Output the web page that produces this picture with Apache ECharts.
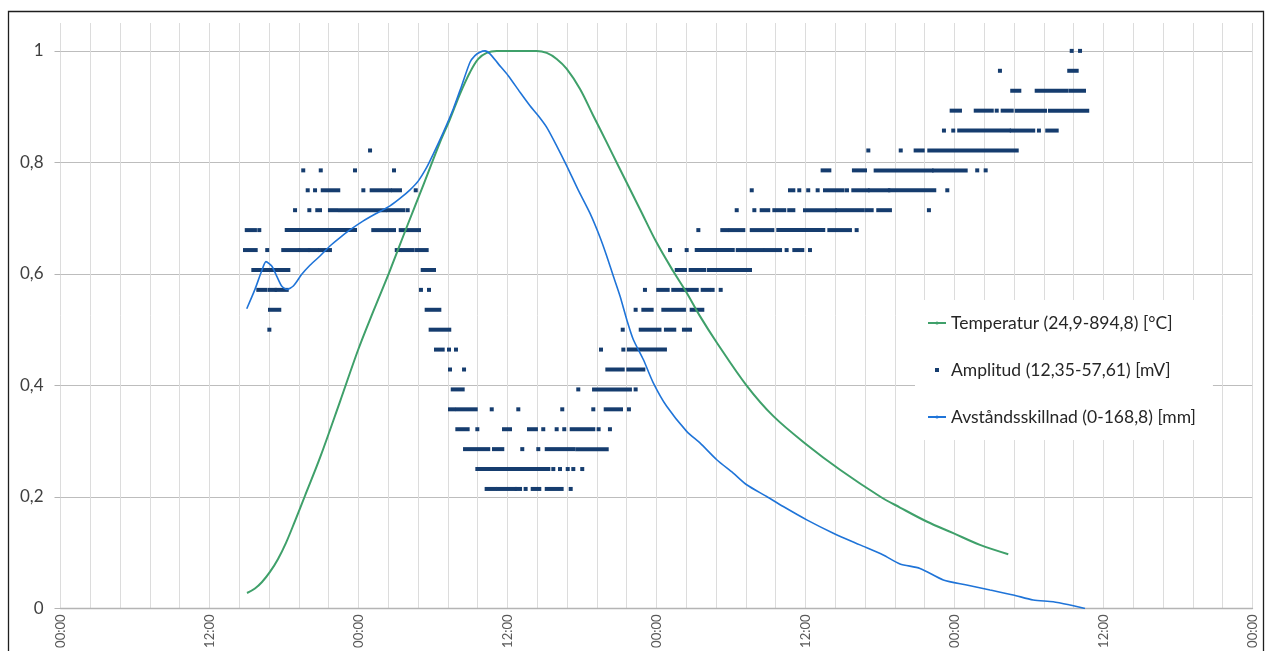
<!DOCTYPE html>
<html>
<head>
<meta charset="utf-8">
<script src="https://cdn.jsdelivr.net/npm/echarts@6/dist/echarts.min.js"></script>
<style>
html,body{margin:0;padding:0;background:#fff;}
#chart{width:1267px;height:651px;}
</style>
</head>
<body>
<div id="chart"></div>
<script>
// ---- Data (time in hours from first 00:00, values normalised to series max) ----
const timeLabels = ['00:00','12:00','00:00','12:00','00:00','12:00','00:00','12:00','00:00'];
const yTicks = [0, 0.2, 0.4, 0.6, 0.8, 1];

const seriesNames = [
  'Temperatur (24,9-894,8) [°C]',
  'Amplitud (12,35-57,61) [mV]',
  'Avståndsskillnad (0-168,8) [mm]'
];

const tempHours  = [15.02,15.66,16.23,16.87,17.52,18.16,18.89,19.69,20.90,22.51,23.98,25.19,26.54,27.88,29.22,30.56,31.37,32.17,32.98,33.65,34.32,35.13,38.35,39.16,39.96,40.77,41.84,42.91,43.99,44.92,46.67,48.01,49.35,50.43,51.50,52.85,55.26,57.41,60.10,62.78,66.00,67.61,69.76,71.90,74.05,76.33];
const tempValues = [0.0278,0.0359,0.0476,0.0656,0.0889,0.1177,0.1572,0.2022,0.2704,0.3711,0.4645,0.5328,0.6065,0.6837,0.7592,0.8359,0.8778,0.9227,0.9617,0.9856,0.9964,1.0,1.0,0.9964,0.9856,0.9677,0.9317,0.8837,0.8359,0.7939,0.7161,0.6562,0.6047,0.5664,0.5243,0.4771,0.3998,0.3450,0.2938,0.2489,0.2009,0.1811,0.1560,0.1351,0.1141,0.0974];

const distHours  = [15.00,15.66,16.20,16.55,17.01,17.41,17.81,18.22,18.75,19.43,20.09,20.90,21.70,22.51,23.31,24.39,25.47,26.54,27.34,28.15,28.82,29.49,30.02,30.83,31.63,32.31,32.98,33.38,33.78,34.19,34.59,35.26,36.06,37.01,37.81,38.48,39.16,39.96,40.77,41.68,42.64,43.45,43.99,44.52,45.06,45.60,46.13,46.94,47.74,48.82,50.43,51.50,52.85,54.18,55.26,56.87,58.21,60.10,62.24,64.39,66.26,67.61,69.22,71.10,72.98,74.86,76.73,78.34,79.95,81.30,82.51];
const distValues = [0.5376,0.5723,0.6052,0.6221,0.6142,0.5962,0.5783,0.5723,0.5783,0.5993,0.6155,0.6322,0.6501,0.6652,0.6789,0.6951,0.7089,0.7220,0.7353,0.7508,0.7669,0.7910,0.8149,0.8539,0.8958,0.9376,0.9797,0.9916,0.9977,1.0,0.9946,0.9767,0.9556,0.9258,0.9017,0.8837,0.8629,0.8298,0.7939,0.7511,0.7089,0.6658,0.6322,0.5962,0.5603,0.5184,0.4825,0.4465,0.4047,0.3626,0.3177,0.2969,0.2668,0.2429,0.2219,0.2009,0.1829,0.1590,0.1351,0.1141,0.0961,0.0800,0.0719,0.0512,0.0422,0.0332,0.0243,0.0153,0.0122,0.0063,0];

// amplitude: discrete levels and, per level, runs of consecutive samples [startHour, endHour]
const ampLevels = [0.2144,0.2501,0.2858,0.3215,0.3572,0.3929,0.4286,0.4643,0.5,0.5357,0.5714,0.6071,0.6428,0.6786,0.7143,0.75,0.7857,0.8214,0.8571,0.8928,0.9285,0.9643,1.0];
const ampRuns = [
  [[34.32,34.99],[35.26,36.60],[36.74,37.01],[37.46,37.46],[38.03,38.56],[39.16,40.36],[41.09,41.09]],
  [[33.57,39.29],[39.69,39.69],[40.23,40.23],[40.85,40.85],[41.30,41.30],[42.02,42.02]],
  [[32.58,34.45],[34.91,35.58],[37.19,37.19],[38.48,38.48],[39.16,41.30],[41.62,43.99]],
  [[31.96,32.79],[33.57,33.57],[35.72,36.20],[37.73,38.29],[38.88,38.88],[39.96,39.96],[40.57,40.57],[41.17,42.91],[43.34,43.34],[44.25,44.25]],
  [[31.37,31.69],[31.99,33.44],[34.73,34.73],[36.87,36.87],[40.41,40.41],[42.91,42.91],[43.91,45.14],[45.78,45.78]],
  [[31.59,32.39],[41.70,41.70],[42.97,45.86],[46.32,46.32]],
  [[31.37,31.37],[32.50,32.50],[44.04,45.28],[45.73,46.94]],
  [[30.24,30.78],[31.29,31.29],[31.85,31.85],[43.53,43.53],[45.33,45.33],[45.78,48.68]],
  [[16.82,16.82],[29.81,31.31],[45.28,45.28],[46.73,48.24],[48.76,49.43],[50.21,50.70]],
  [[16.87,17.62],[29.49,30.51],[46.32,46.32],[46.94,47.61],[48.55,50.21],[50.83,51.69]],
  [[15.93,16.47],[16.82,17.27],[17.41,18.22],[29.03,29.03],[29.68,29.68],[47.07,47.07],[48.14,48.90],[49.35,51.24],[51.72,52.23],[52.52,52.52],[53.17,53.17]],
  [[15.53,18.35],[29.17,30.08],[49.63,50.29],[50.75,51.85],[52.23,55.53]],
  [[14.86,15.72],[16.65,16.65],[17.94,19.15],[19.34,19.96],[20.09,20.68],[20.90,21.16],[21.44,21.70],[27.08,27.34],[27.61,28.36],[28.69,29.49],[49.09,49.09],[50.43,50.43],[51.24,54.14],[54.54,56.52],[56.79,57.95],[58.48,58.48],[59.10,59.74],[60.36,60.36]],
  [[15.00,15.66],[16.01,16.01],[18.22,23.72],[25.19,26.86],[27.40,28.87],[51.37,51.37],[53.30,53.70],[53.97,54.99],[55.67,57.33],[57.81,61.43],[61.92,62.78],[63.10,63.58],[64.12,64.12]],
  [[18.89,18.89],[20.04,20.04],[20.68,20.90],[21.70,22.19],[22.51,26.13],[26.40,27.61],[27.96,27.96],[54.46,54.46],[55.88,55.88],[56.47,57.00],[57.49,58.29],[58.69,59.02],[59.96,62.37],[62.56,64.61],[64.93,65.33],[65.86,66.80],[69.94,69.94]],
  [[19.91,19.91],[20.50,20.50],[21.12,22.37],[24.39,24.39],[25.06,26.54],[26.80,27.34],[28.61,28.61],[55.67,55.67],[58.75,59.02],[59.50,59.50],[60.22,60.22],[60.98,60.98],[61.57,62.99],[63.34,63.34],[63.85,65.01],[65.19,66.67],[66.80,70.37],[71.42,71.42]],
  [[19.55,19.55],[20.96,20.96],[23.72,23.72],[26.86,26.86],[61.38,61.92],[63.90,64.79],[65.65,70.16],[70.35,72.90],[73.83,73.83],[74.51,74.51]],
  [[24.93,24.93],[65.06,65.06],[67.67,67.67],[68.87,69.44],[69.97,77.01]],
  [[71.15,71.15],[71.90,71.90],[72.38,76.39],[76.61,78.34],[78.80,78.80],[79.47,80.23]],
  [[71.77,72.44],[73.71,75.00],[75.40,75.40],[75.88,76.61],[77.01,79.29],[79.69,82.69]],
  [[76.65,77.22],[78.62,81.03],[81.36,82.43]],
  [[75.66,75.66],[81.24,81.84]],
  [[81.44,81.44],[82.11,82.11]]
];

// ---- Build library data ----
const tempData = tempHours.map((h, i) => [h, tempValues[i]]);
const distData = distHours.map((h, i) => [h, distValues[i]]);
const ampData = [];
ampRuns.forEach((runs, k) => runs.forEach(r => ampData.push([ampLevels[k], r[0], r[1]])));

const COL_TEMP = '#3fa06a';
const COL_AMP = '#153c6e';
const COL_DIST = '#1f74d8';
const FONT = 'Lato, "Open Sans", sans-serif';

const chart = echarts.init(document.getElementById('chart'));
chart.setOption({
  animation: false,
  backgroundColor: '#fff',
  grid: { left: 60.5, right: 14.5, top: 23, bottom: 42.5, containLabel: false },
  xAxis: {
    type: 'value', min: 0, max: 96, interval: 2.4,
    axisLine: { show: true, lineStyle: { color: '#b4b4b4', width: 1.3 } },
    axisTick: { show: false },
    splitLine: { show: true, lineStyle: { color: '#dcdcdc', width: 1 } },
    axisLabel: {
      rotate: 90, margin: 6, fontSize: 13, color: '#595959', fontFamily: FONT,
      formatter: v => {
        const q = v / 12;
        if (Math.abs(q - Math.round(q)) < 1e-6) return timeLabels[Math.round(q)] || '';
        return '';
      }
    }
  },
  yAxis: {
    type: 'value', min: 0, max: 1.05, interval: 0.2,
    axisLine: { show: false },
    axisTick: { show: true, length: 6, lineStyle: { color: '#b4b4b4' } },
    splitLine: { show: true, showMaxLine: false, lineStyle: { color: '#bdbdbd', width: 1.2 } },
    axisLabel: {
      margin: 17, fontSize: 17, color: '#404040', fontFamily: FONT, showMaxLabel: false,
      formatter: v => {
        const t = yTicks.find(t => Math.abs(t - v) < 1e-6);
        if (t === undefined) return '';
        return String(t).replace('.', ',');
      }
    }
  },
  legend: {
    orient: 'vertical', left: 915, top: 300,
    padding: [14, 17, 14, 12], itemGap: 29,
    itemWidth: 18, itemHeight: 4,
    backgroundColor: '#ffffff',
    textStyle: { fontSize: 17.5, color: '#262626', fontFamily: FONT },
    data: [
      { name: seriesNames[0] },
      { name: seriesNames[1], icon: 'path://M0,0 H4 V4 H0 Z' },
      { name: seriesNames[2] }
    ]
  },
  series: [
    {
      name: seriesNames[1], type: 'custom', z: 2,
      encode: { x: [1, 2], y: 0 },
      itemStyle: { color: COL_AMP },
      renderItem: (params, api) => {
        const lv = api.value(0);
        const p1 = api.coord([api.value(1), lv]);
        const p2 = api.coord([api.value(2), lv]);
        return {
          type: 'rect',
          shape: { x: p1[0] - 2, y: p1[1] - 2, width: p2[0] - p1[0] + 4, height: 4 },
          style: { fill: COL_AMP }
        };
      },
      data: ampData
    },
    {
      name: seriesNames[0], type: 'line', z: 3,
      data: tempData, symbol: 'none', smooth: 0.35,
      lineStyle: { color: COL_TEMP, width: 2 }, itemStyle: { color: COL_TEMP }
    },
    {
      name: seriesNames[2], type: 'line', z: 4,
      data: distData, symbol: 'none', smooth: 0.25,
      lineStyle: { color: COL_DIST, width: 1.6 }, itemStyle: { color: COL_DIST }
    }
  ],
  graphic: [
    {
      type: 'rect', silent: true, z: 100,
      shape: { x: 8.5, y: 11.5, width: 1255, height: 700 },
      style: { fill: 'none', stroke: '#1e1e1e', lineWidth: 1.3 }
    }
  ]
});
</script>
</body>
</html>
